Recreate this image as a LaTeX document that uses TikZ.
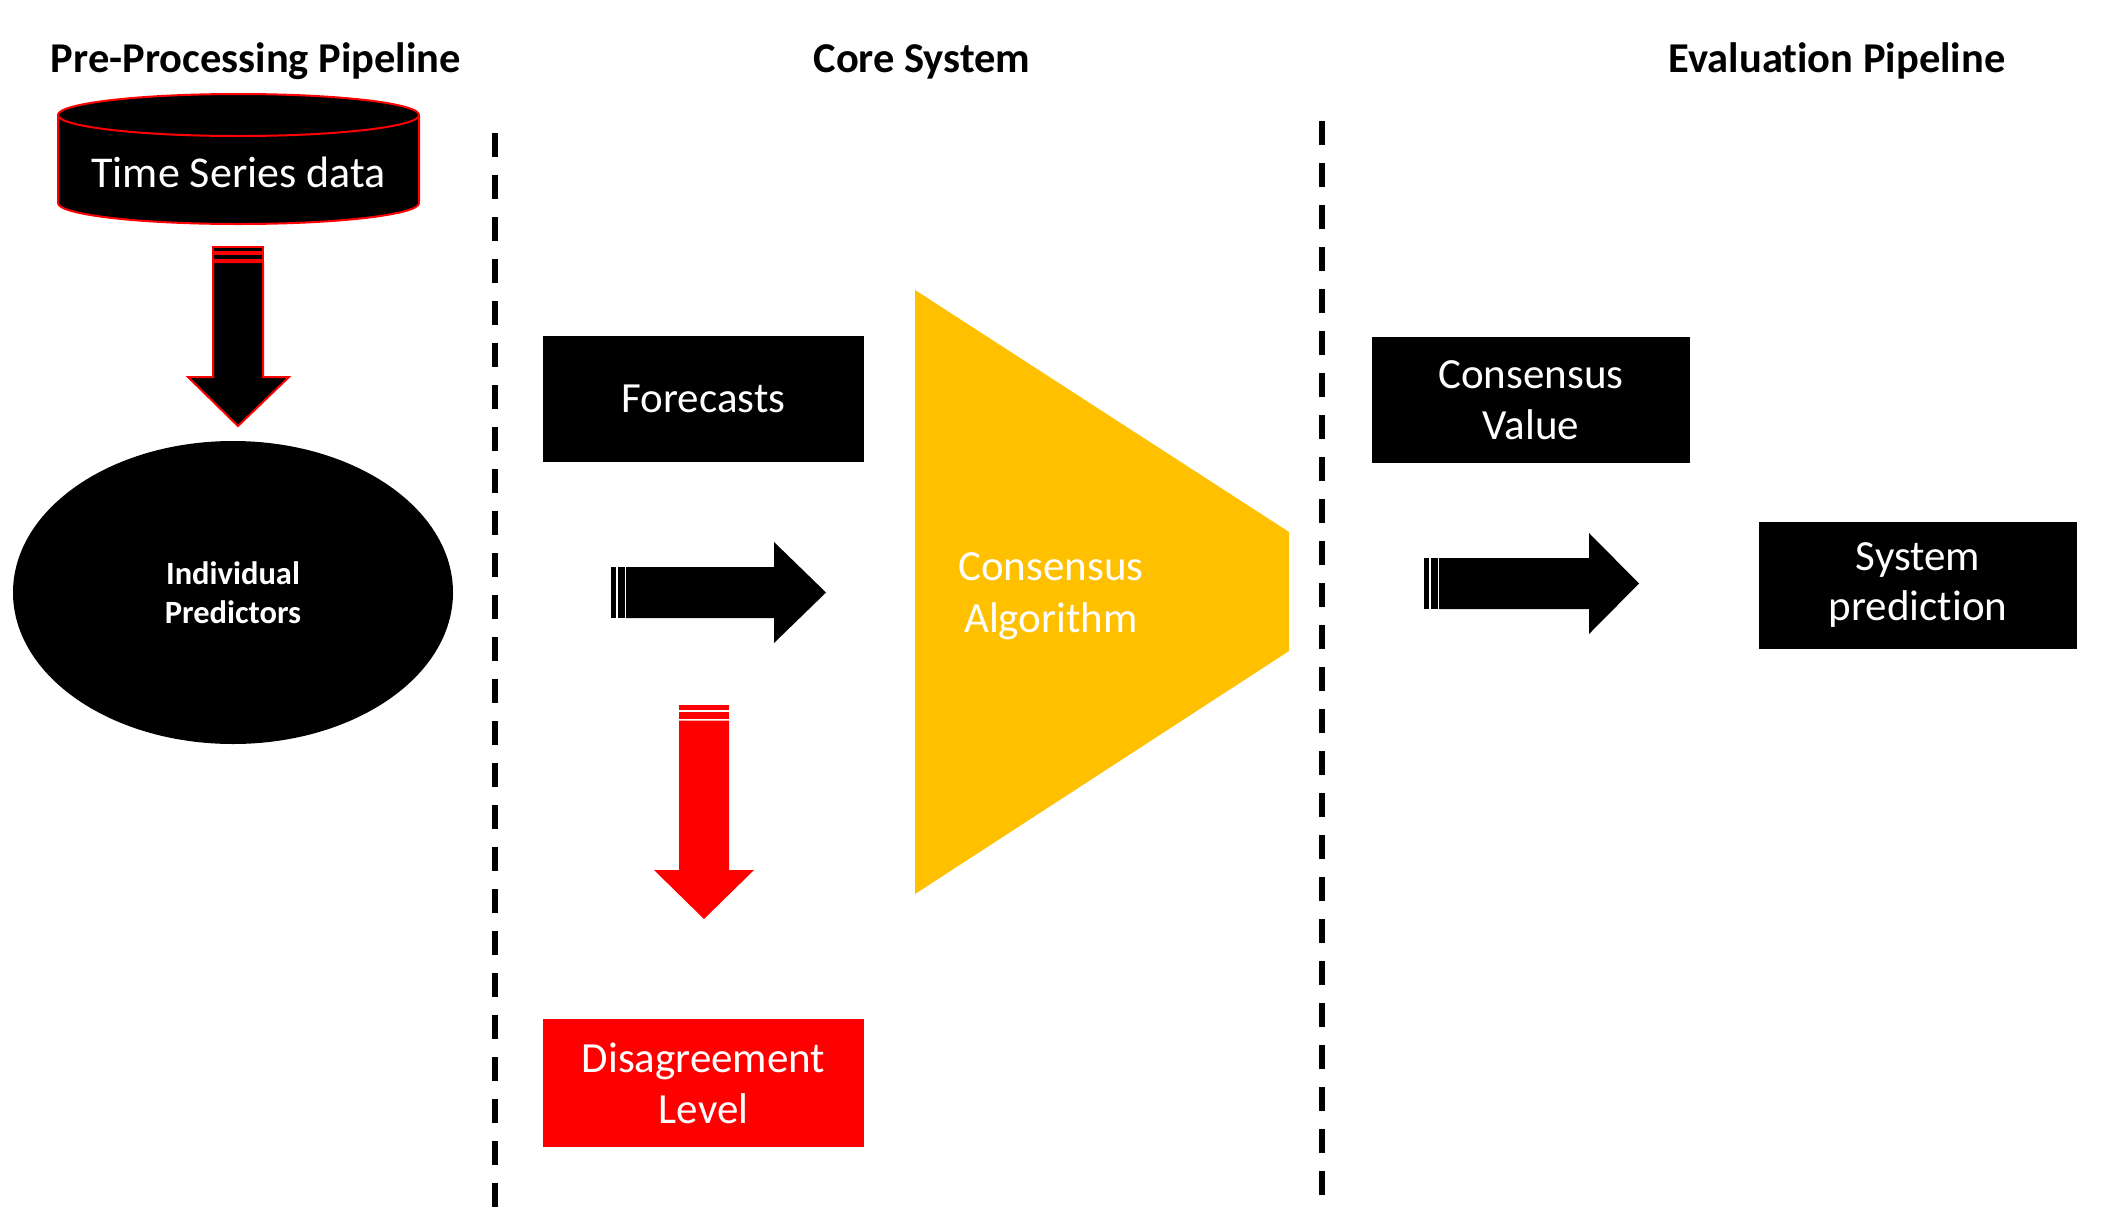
\documentclass[tikz,border=0pt]{standalone}
\usepackage{fontspec}
\setmainfont{Carlito}[Ligatures=NoCommon]
\usetikzlibrary{shapes.geometric}
\definecolor{amber}{HTML}{FFC000}
\definecolor{pptred}{HTML}{FF0000}
\tikzset{
  title/.style={font=\fontsize{42.5}{50}\selectfont\bfseries, anchor=base, inner sep=0pt},
  blackbox/.style={rectangle, fill=black, text=white, inner sep=0pt, align=center,
     font=\fontsize{43}{51}\selectfont},
  redbox/.style={blackbox, fill=pptred},
  sepline/.style={line width=6pt, dash pattern=on 24pt off 18pt},
  blockarrow/.style={fill=black},
  outlinedarrow/.style={fill=black, draw=pptred, line width=2pt},
  redarrow/.style={fill=pptred},
}
\begin{document}
\begin{tikzpicture}[x=1pt,y=-1pt]
\useasboundingbox (0,0) rectangle (2114,1216);

% titles
\node[title] (t1) at (256,72) {Pre-Processing Pipeline};
\node[title] (t2) at (922,72) {Core System};
\node[title] (t3) at (1837,72) {Evaluation Pipeline};

% separators
\coordinate (s1a) at (495,133);
\coordinate (s1b) at (495,1216);
\coordinate (s2a) at (1322,121);
\coordinate (s2b) at (1322,1205);
\draw[sepline] (s1a) -- (s1b);
\draw[sepline] (s2a) -- (s2b);

% cylinder
\fill[black] (58,115) -- (58,203) arc[start angle=180, end angle=360, x radius=180.5pt, y radius=21pt]
   -- (419,115) arc[start angle=0, end angle=180, x radius=180.5pt, y radius=21pt] -- cycle;
\draw[pptred, line width=2pt] (58,115) -- (58,203) arc[start angle=180, end angle=360, x radius=180.5pt, y radius=21pt]
   -- (419,115);
\draw[pptred, line width=2pt, fill=black] (238.5,115) ellipse[x radius=180.5pt, y radius=21pt];
\node[text=white, font=\fontsize{44}{51}\selectfont, inner sep=0pt] (ts) at (238.5,172) {Time Series data};

% down arrow 1 (black with red outline)
\draw[outlinedarrow] (213,247) rectangle (263,252);
\draw[outlinedarrow] (213,254) rectangle (263,260);
\draw[outlinedarrow] (213,262) -- (263,262) -- (263,377) -- (289,377) -- (238,426) -- (188,377) -- (213,377) -- cycle;

% ellipse
\node[ellipse, fill=black, text=white, minimum width=440pt, minimum height=303pt, inner sep=0pt,
      align=center, font=\fontsize{32.5}{39}\selectfont\bfseries] (ip) at (233,592.5) {Individual\\Predictors};

% forecasts
\node[blackbox, minimum width=321pt, minimum height=126pt] (fc) at (703.5,399) {Forecasts};

% right arrow 1
\fill[blockarrow] (611,567) rectangle (616,618);
\fill[blockarrow] (617.5,567) rectangle (624.5,618);
\fill[blockarrow] (626,567) -- (774,567) -- (774,542) -- (826,592.5) -- (774,643) -- (774,618) -- (626,618) -- cycle;

% red down arrow
\fill[redarrow] (679,705) rectangle (729,710);
\fill[redarrow] (679,711.5) rectangle (729,719);
\fill[redarrow] (679,720.5) -- (729,720.5) -- (729,870) -- (754,870) -- (704,919) -- (654,870) -- (679,870) -- cycle;

% disagreement
\node[redbox, minimum width=321pt, minimum height=128pt] (dl) at (703.5,1083) {Disagreement\\Level};

% consensus algorithm trapezoid
\coordinate (ca1) at (915,290);
\coordinate (ca2) at (1289,532);
\coordinate (ca3) at (1289,651);
\coordinate (ca4) at (915,894);
\fill[amber] (ca1) -- (ca2) -- (ca3) -- (ca4) -- cycle;
\node[text=white, align=center, inner sep=0pt, font=\fontsize{43}{52}\selectfont] (ca) at (1051,596) {Consensus\\Algorithm};

% consensus value
\node[blackbox, minimum width=318pt, minimum height=126pt] (cv) at (1531,400) {Consensus\\Value};

% right arrow 2
\fill[blockarrow] (1424,558) rectangle (1429,609);
\fill[blockarrow] (1430.5,558) rectangle (1437.5,609);
\fill[blockarrow] (1439,558) -- (1589,558) -- (1589,533) -- (1639,583.5) -- (1589,634) -- (1589,609) -- (1439,609) -- cycle;

% system prediction
\node[blackbox, minimum width=318pt, minimum height=127pt] (sp) at (1918,585) {System\\prediction};
\end{tikzpicture}
\end{document}
